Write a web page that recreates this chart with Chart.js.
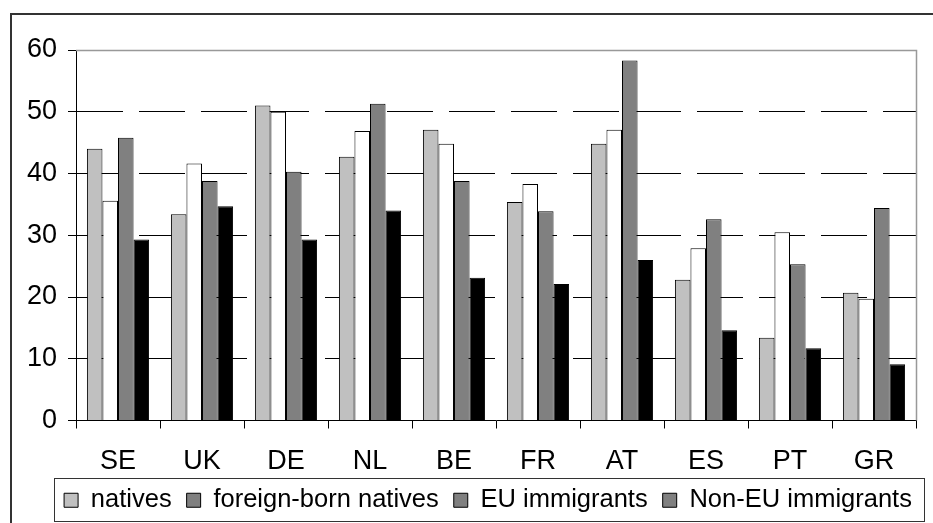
<!DOCTYPE html>
<html>
<head>
<meta charset="utf-8">
<script src="https://cdn.jsdelivr.net/npm/chart.js@4/dist/chart.umd.min.js"></script>
<style>
  html, body { margin: 0; padding: 0; background: #fff; }
  #wrap { width: 933px; height: 523px; }
</style>
</head>
<body>
<div id="wrap"><canvas id="chart" width="933" height="523"></canvas></div>
<script>
const categories = ['SE', 'UK', 'DE', 'NL', 'BE', 'FR', 'AT', 'ES', 'PT', 'GR'];
const natives = [44.0, 33.4, 51.0, 42.7, 47.1, 35.4, 44.8, 22.8, 13.4, 20.7];
const foreignBornNatives = [35.6, 41.6, 50.0, 46.9, 44.8, 38.3, 47.1, 27.9, 30.5, 19.7];
const euImmigrants = [45.8, 38.8, 40.3, 51.3, 38.8, 33.9, 58.3, 32.6, 25.3, 34.4];
const nonEuImmigrants = [29.3, 34.7, 29.3, 34.0, 23.1, 22.1, 26.0, 14.6, 11.7, 9.1];
const seriesNames = ['natives', 'foreign-born natives', 'EU immigrants', 'Non-EU immigrants'];
const barColors = ['#c0c0c0', '#ffffff', '#808080', '#000000'];
const legendColors = ['#c0c0c0', '#808080', '#808080', '#808080'];
const yMin = 0, yMax = 60, yStep = 10;

const font = 'Liberation Sans, Arial, sans-serif';

// page frame, plot border and the box round the legend
const decor = {
  id: 'decor',
  afterLayout(chart) {
    // the legend in the original sits a bit right of the canvas centre
    chart.legend.left += 30;
    chart.legend.right += 30;
  },
  beforeDraw(chart) {
    const ctx = chart.ctx;
    ctx.save();
    ctx.strokeStyle = '#333';
    ctx.lineWidth = 2;
    ctx.beginPath();
    ctx.moveTo(11, chart.height + 2);
    ctx.lineTo(11, 14);
    ctx.lineTo(chart.width + 2, 14);
    ctx.stroke();
    ctx.restore();
  },
  beforeDatasetsDraw(chart) {
    const { ctx, chartArea: a } = chart;
    ctx.save();
    ctx.strokeStyle = '#999';
    ctx.lineWidth = 1.5;
    ctx.beginPath();
    ctx.moveTo(a.left, Math.round(a.top) + 0.5);
    ctx.lineTo(Math.round(a.right) + 0.5, Math.round(a.top) + 0.5);
    ctx.lineTo(Math.round(a.right) + 0.5, a.bottom);
    ctx.stroke();
    ctx.restore();
  },
  afterDraw(chart) {
    const boxes = chart.legend.legendHitBoxes;
    if (!boxes || !boxes.length) return;
    const left = Math.min(...boxes.map(b => b.left)) - 10;
    const right = Math.max(...boxes.map(b => b.left + b.width)) + 12;
    const mid = boxes[0].top + boxes[0].height / 2;
    const ctx = chart.ctx;
    ctx.save();
    ctx.strokeStyle = '#333';
    ctx.lineWidth = 1;
    ctx.strokeRect(Math.round(left) + 0.5, Math.round(mid - 22) + 0.5, Math.round(right - left), 43);
    ctx.restore();
  }
};

new Chart(document.getElementById('chart').getContext('2d'), {
  type: 'bar',
  data: {
    labels: categories,
    datasets: [natives, foreignBornNatives, euImmigrants, nonEuImmigrants].map((d, i) => ({
      label: seriesNames[i],
      data: d,
      backgroundColor: barColors[i],
      borderColor: '#000',
      borderWidth: 1,
      borderSkipped: 'bottom',
      categoryPercentage: 0.74,
      barPercentage: 1.0
    }))
  },
  options: {
    responsive: false,
    animation: false,
    layout: { padding: { top: 50, left: 0, right: 17, bottom: 0 } },
    plugins: {
      title: { display: false },
      tooltip: { enabled: false },
      legend: {
        position: 'bottom',
        labels: {
          color: '#000',
          font: { family: font, size: 25.5 },
          boxWidth: 14,
          boxHeight: 14,
          padding: 15,
          generateLabels(chart) {
            return chart.data.datasets.map((ds, i) => ({
              text: ds.label,
              fillStyle: legendColors[i],
              strokeStyle: '#000',
              lineWidth: 1,
              datasetIndex: i
            }));
          }
        }
      }
    },
    scales: {
      x: {
        grid: {
          offset: true,
          drawOnChartArea: false,
          drawTicks: true,
          tickLength: 8,
          tickColor: '#000'
        },
        border: { color: '#000', width: 1 },
        ticks: {
          color: '#000',
          font: { family: font, size: 27 },
          padding: 17,
          maxRotation: 0
        },
        afterFit(scale) { scale.height = 52; }
      },
      y: {
        min: yMin,
        max: yMax,
        grid: {
          color: ctx => (ctx.tick && (ctx.tick.value === yMin || ctx.tick.value === yMax)) ? 'rgba(0,0,0,0)' : '#000',
          lineWidth: 1,
          tickLength: 8,
          tickColor: '#000'
        },
        border: { color: '#000', width: 1, dash: [46, 16] },
        ticks: {
          stepSize: yStep,
          color: '#000',
          font: { family: font, size: 27 },
          padding: 11
        },
        afterFit(scale) { scale.width = 76; }
      }
    }
  },
  plugins: [decor]
});
</script>
</body>
</html>
